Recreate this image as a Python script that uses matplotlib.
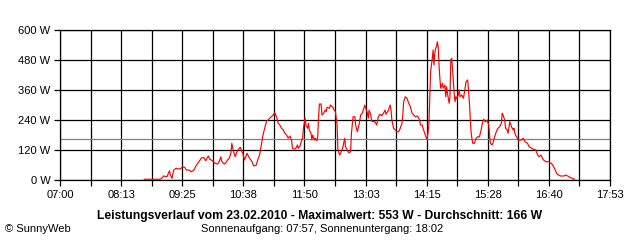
import matplotlib
matplotlib.use("Agg")
import matplotlib.pyplot as plt
import numpy as np

plt.rcParams["font.family"] = ["Liberation Sans", "DejaVu Sans"]

# minutes since midnight, power in W
minutes = [
    520, 529, 539, 541, 543, 547, 550, 551, 553, 555, 558, 560, 563, 565, 568, 570,
    573, 576, 579, 582, 585, 588, 591, 593, 596, 598, 601, 604, 607, 609, 611, 612,
    615, 617, 619, 621, 623, 624, 626, 628, 630, 632, 634, 636, 637, 639, 641, 642,
    645, 648, 650, 653, 655, 657, 659, 661, 663, 665, 667, 669, 671, 673, 675, 677,
    679, 681, 683, 685, 687, 689, 691, 693, 695, 696, 698, 700, 702, 703, 705, 707,
    708, 709, 711, 712, 714, 715, 716, 718, 719, 720, 722, 723, 725, 726, 727, 728,
    730, 731, 733, 735, 736, 737, 740, 741, 744, 745, 747, 748, 749, 750, 752, 754,
    756, 758, 759, 761, 763, 765, 766, 768, 770, 771, 773, 775, 777, 779, 780, 782,
    783, 785, 786, 787, 789, 790, 792, 794, 796, 798, 800, 802, 804, 806, 807, 809,
    810, 812, 813, 814, 816, 818, 820, 822, 824, 826, 827, 828, 830, 832, 834, 836,
    838, 840, 842, 844, 845, 847, 848, 850, 851, 853, 855, 856, 857, 858, 859, 860,
    862, 863, 864, 865, 866, 867, 868, 869, 870, 871, 872, 874, 875, 877, 878, 879,
    880, 882, 883, 884, 885, 886, 888, 889, 890, 891, 893, 894, 895, 897, 899, 901,
    902, 904, 905, 906, 907, 908, 909, 910, 912, 914, 916, 918, 920, 921, 923, 925,
    927, 929, 930, 931, 933, 934, 936, 938, 940, 942, 944, 945, 946, 948, 949, 951,
    952, 954, 956, 958, 959, 960, 962, 964, 968, 970, 972, 975, 977, 980, 982, 985,
    987, 989, 991, 992, 994, 997, 1000, 1003, 1005, 1008, 1010, 1014, 1018, 1021, 1024, 1028,
    1031,
]
watts = [
    3, 3, 3, 8, 16, 13, 37, 20, 7, 40, 47, 44, 45, 51, 51, 40,
    40, 33, 40, 60, 73, 89, 89, 77, 96, 83, 77, 67, 64, 73, 93, 75,
    64, 69, 80, 87, 109, 147, 113, 93, 113, 123, 131, 113, 107, 80, 97, 107,
    87, 73, 56, 60, 83, 100, 140, 180, 207, 233, 240, 247, 253, 260, 269, 253,
    227, 220, 207, 200, 187, 180, 167, 176, 160, 127, 123, 127, 140, 127, 136, 160,
    167, 207, 247, 220, 207, 227, 200, 187, 160, 180, 160, 167, 157, 173, 253, 304,
    304, 260, 267, 280, 273, 291, 287, 300, 291, 283, 273, 247, 220, 120, 100, 113,
    133, 167, 133, 120, 109, 113, 187, 253, 253, 220, 193, 220, 260, 267, 280, 300,
    287, 267, 247, 280, 260, 236, 233, 233, 220, 253, 263, 257, 267, 280, 263, 273,
    280, 300, 280, 240, 207, 200, 193, 193, 207, 227, 260, 313, 333, 327, 307, 293,
    267, 260, 253, 256, 253, 240, 220, 220, 207, 187, 167, 164, 193, 220, 333, 433,
    487, 520, 460, 507, 527, 533, 553, 533, 460, 407, 367, 387, 367, 380, 333, 373,
    347, 307, 333, 480, 487, 447, 347, 313, 333, 327, 340, 360, 333, 340, 327, 367,
    393, 400, 360, 313, 253, 193, 167, 147, 147, 167, 173, 173, 200, 220, 243, 233,
    240, 220, 180, 147, 140, 147, 173, 193, 207, 213, 227, 267, 260, 240, 207, 200,
    187, 233, 213, 200, 207, 187, 173, 160, 160, 167, 153, 147, 133, 127, 123, 120,
    100, 93, 100, 93, 80, 73, 73, 67, 60, 40, 24, 16, 16, 20, 13, 7,
    3,
]
avg_watts = 166
x_labels = ["07:00", "08:13", "09:25", "10:38", "11:50", "13:03", "14:15", "15:28", "16:40", "17:53"]
y_values = [0, 120, 240, 360, 480, 600]

start, end = 420, 1073

fig = plt.figure(figsize=(6.4, 2.4), dpi=100)
ax = fig.add_axes([60 / 640, 60 / 240, 550 / 640, 150 / 240])

ax.set_xlim(start, end)
ax.set_ylim(0, 600)
ax.set_xticks(np.linspace(start, end, len(x_labels)), labels=x_labels)
ax.set_xticks(np.linspace(start, end, 2 * len(x_labels) - 1), minor=True)
ax.set_yticks(y_values, labels=[f"{v} W" for v in y_values])
ax.tick_params(which="both", direction="out", length=4, width=0.9, colors="black", labelsize=8, pad=3)
ax.grid(True, which="both", axis="x", color="black", linewidth=0.9)
ax.grid(True, which="major", axis="y", color="black", linewidth=0.9)
for sp in ax.spines.values():
    sp.set_color("black")
    sp.set_linewidth(0.9)

ax.axhline(avg_watts, color="#808080", linewidth=0.9, zorder=2.5)
ax.plot(minutes, watts, color="#ff0000", linewidth=0.85, zorder=3)

fig.text(0.5, 1 - 216 / 240, "Leistungsverlauf vom 23.02.2010 - Maximalwert: 553 W - Durchschnitt: 166 W",
         ha="center", va="center", fontsize=8.7, fontweight="bold")
fig.text(0.503, 1 - 229 / 240, "Sonnenaufgang: 07:57, Sonnenuntergang: 18:02",
         ha="center", va="center", fontsize=8)
fig.text(5 / 640, 1 - 229 / 240, "\u00a9 SunnyWeb", ha="left", va="center", fontsize=8)

fig.savefig("out.png", dpi=100, facecolor="white")
